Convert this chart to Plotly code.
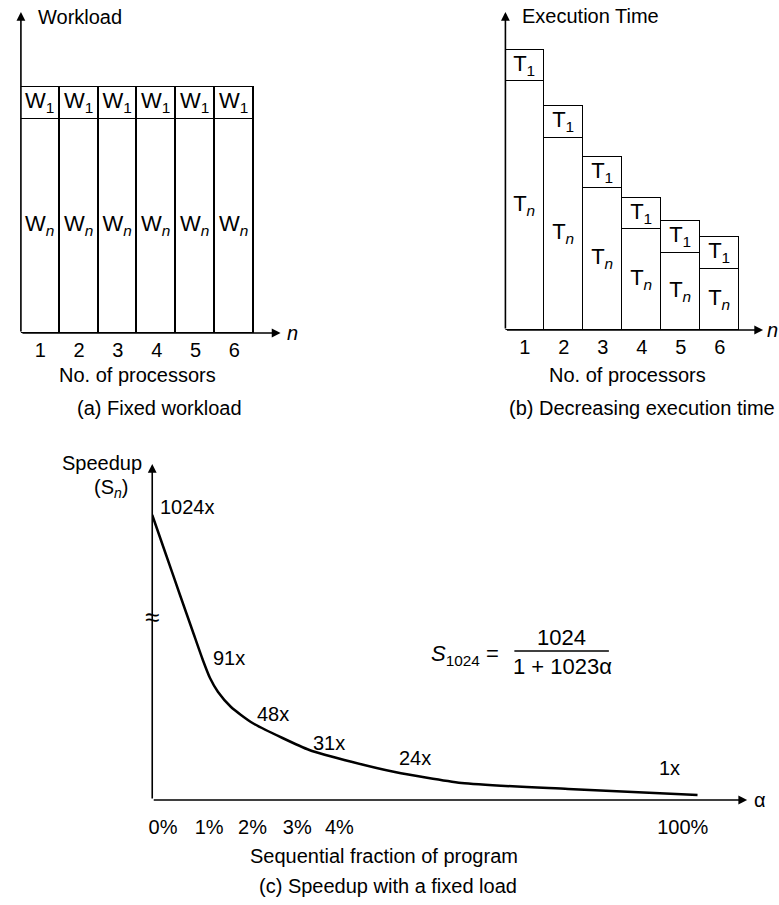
import plotly.graph_objects as go

# ---------------- data ----------------
processors = [1, 2, 3, 4, 5, 6]
processor_ticks = ["1", "2", "3", "4", "5", "6"]

# panel (a): fixed workload (relative units, W1 = 1)
workload_w1 = [1.0, 1.0, 1.0, 1.0, 1.0, 1.0]
workload_wn = [6.7, 6.7, 6.7, 6.7, 6.7, 6.7]

# panel (b): decreasing execution time (relative units, T1 = 1)
time_t1 = [1.0, 1.0, 1.0, 1.0, 1.0, 1.0]
time_tn = [7.9, 6.1, 4.5, 3.2, 2.45, 1.95]

# panel (c): schematic speedup curve (drawing units, y axis broken)
curve_x = [0.00, 0.31, 0.62, 0.91, 1.13, 1.29, 1.47, 1.76, 2.24, 2.91, 3.51,
           4.47, 5.42, 6.91, 9.29, 12.18]
curve_y = [28.5, 24.5, 20.5, 16.8, 14.0, 12.2, 10.8, 9.3, 7.7, 6.2, 5.0,
           3.8, 2.8, 1.7, 1.1, 0.5]
speedup_labels = ["1024x", "91x", "48x", "31x", "24x", "1x"]
alpha_ticks = ["0%", "1%", "2%", "3%", "4%", "100%"]

# ---------------- layout helpers ----------------
W, H = 779, 905
FONT = "Liberation Sans, Arial, Helvetica, sans-serif"
FS = 20


def fx(p):
    return p / W


def fy(p):
    return 1 - p / H


# pixel geometry of the three panels
A_X0, A_X1, A_Y0, A_Y1, A_UX, A_UY = 17, 282, 333, 12, 39.0, 32.0
B_X0, B_X1, B_Y0, B_Y1, B_UX, B_UY = 504, 772, 330, 12, 39.2, 31.5
C_X0, C_X1, C_Y0, C_Y1, C_UX, C_UY = 149, 762, 800, 460, 45.0, 10.0

bar_style = dict(color="white", line=dict(color="black", width=1.5))
txt_font = dict(family=FONT, size=22, color="black")

fig = go.Figure()


def bars(xa, ya, vals, label):
    fig.add_trace(go.Bar(x=processors, y=vals, xaxis=xa, yaxis=ya, width=1,
                         marker=bar_style, text=[label] * len(vals),
                         textposition="inside", insidetextanchor="middle",
                         constraintext="none", textangle=0, textfont=txt_font,
                         hoverinfo="skip"))


bars("x", "y", workload_wn, "W<sub><i>n</i></sub>")
bars("x", "y", workload_w1, "W<sub>1</sub>")
bars("x2", "y2", time_tn, "T<sub><i>n</i></sub>")
bars("x2", "y2", time_t1, "T<sub>1</sub>")

fig.add_trace(go.Scatter(x=curve_x, y=curve_y, xaxis="x3", yaxis="y3", mode="lines",
                         line=dict(color="black", width=2.5, shape="spline", smoothing=0.6),
                         hoverinfo="skip"))

hidden = dict(showgrid=False, zeroline=False, showline=False, ticks="",
              showticklabels=False, fixedrange=True)
xtick = dict(showgrid=False, zeroline=False, showline=False, ticks="",
             tickfont=dict(family=FONT, size=FS, color="black"), fixedrange=True)

fig.update_layout(
    width=W, height=H, margin=dict(l=0, r=0, t=0, b=0),
    paper_bgcolor="white", plot_bgcolor="white", showlegend=False,
    barmode="stack", bargap=0, font=dict(family=FONT, size=FS, color="black"),
    xaxis=dict(xtick, domain=[fx(A_X0), fx(A_X1)], anchor="y",
               range=[0.5, 0.5 + (A_X1 - A_X0) / A_UX],
               tickvals=processors, ticktext=processor_ticks, ticklabelstandoff=3),
    yaxis=dict(hidden, domain=[fy(A_Y0), fy(A_Y1)], anchor="x",
               range=[0, (A_Y0 - A_Y1) / A_UY]),
    xaxis2=dict(xtick, domain=[fx(B_X0), fx(B_X1)], anchor="y2",
                range=[0.5, 0.5 + (B_X1 - B_X0) / B_UX],
                tickvals=processors, ticktext=processor_ticks, ticklabelstandoff=3),
    yaxis2=dict(hidden, domain=[fy(B_Y0), fy(B_Y1)], anchor="x2",
                range=[0, (B_Y0 - B_Y1) / B_UY]),
    xaxis3=dict(xtick, domain=[fx(C_X0), fx(C_X1)], anchor="y3",
                range=[0, (C_X1 - C_X0) / C_UX],
                tickvals=[0.24, 1.27, 2.24, 3.24, 4.18, 11.85], ticktext=alpha_ticks,
                ticklabelstandoff=13),
    yaxis3=dict(hidden, domain=[fy(C_Y0), fy(C_Y1)], anchor="x3",
                range=[0, (C_Y0 - C_Y1) / C_UY]),
)

ann = []


def arrow(xr, yr, x0, y0, x1, y1):
    ann.append(dict(xref=xr, yref=yr, axref=xr, ayref=yr, x=x1, y=y1, ax=x0, ay=y0,
                    text="", showarrow=True, arrowhead=2, arrowsize=1.1,
                    arrowwidth=1.6, arrowcolor="black"))


# axis arrows
arrow("x", "y", 0.5, 0, 0.5, (A_Y0 - A_Y1) / A_UY)
arrow("x", "y", 0.5, 0, 0.5 + (278 - A_X0) / A_UX, 0)
arrow("x2", "y2", 0.5, 0, 0.5, (B_Y0 - B_Y1) / B_UY)
arrow("x2", "y2", 0.5, 0, 0.5 + (763 - B_X0) / B_UX, 0)
arrow("x3", "y3", 0, 0, 0, (C_Y0 - 464) / C_UY)
arrow("x3", "y3", 0, 0, (747 - C_X0) / C_UX, 0)


def label(text, px, py, anchor="center", size=FS):
    ann.append(dict(xref="paper", yref="paper", x=fx(px), y=fy(py), text=text,
                    showarrow=False, xanchor=anchor, yanchor="middle",
                    font=dict(family=FONT, size=size, color="black")))


# panel (a)
label("Workload", 32, 17, "left")
label("<i>n</i>", 282, 333, "left")
label("No. of processors", 134, 375)
label("(a) Fixed workload", 156, 408)

# panel (b)
label("Execution Time", 519, 16, "left")
label("<i>n</i>", 765, 330, "left")
label("No. of processors", 627, 375)
label("(b) Decreasing execution time", 777, 408, "right")

# panel (c)
label("Speedup", 141, 463, "right")
label("(S<sub><i>n</i></sub>)", 127, 488, "right")
label("α", 752, 800, "left")
label("Sequential fraction of program", 382, 856)
label("(c) Speedup with a fixed load", 386, 886)
label("≈", 149, 617, "center", 26)

# speedup labels along the curve
lab_px = [(184, 507), (226, 658), (270, 714), (327, 743), (413, 758), (669, 768)]
for t, (px, py) in zip(speedup_labels, lab_px):
    label(t, px, py)

# formula
label("<i>S</i><sub>1024</sub> =", 427, 655, "left", 22)
label("1024", 560, 637, "center", 22)
label("1 + 1023α", 561, 666, "center", 22)

fig.update_layout(annotations=ann)
fig.add_shape(type="line", xref="paper", yref="paper", x0=fx(513), x1=fx(608),
              y0=fy(651), y1=fy(651), line=dict(color="black", width=1.3))

fig.write_html("out.html", config={"displayModeBar": False},
               post_script="document.body.style.margin='0';")
